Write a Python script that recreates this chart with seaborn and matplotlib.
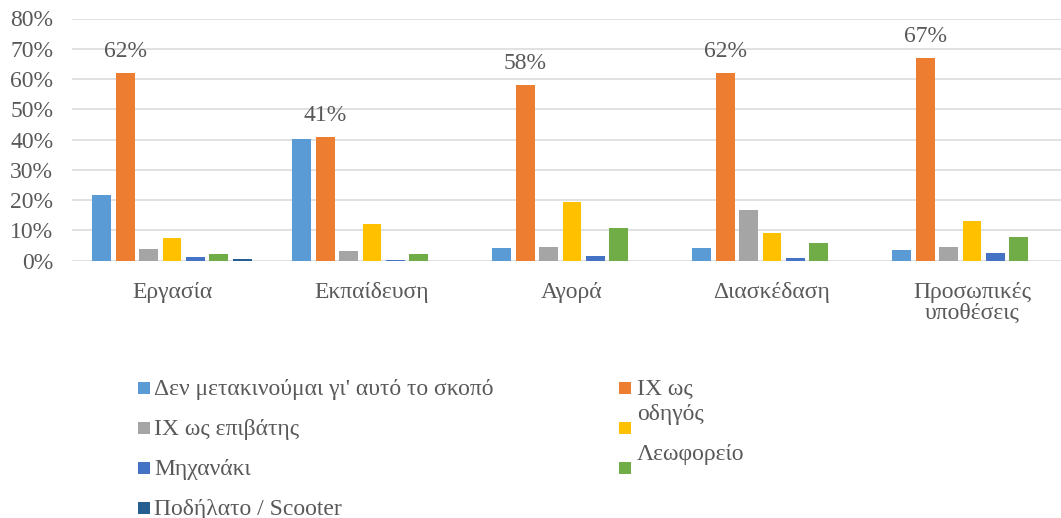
import matplotlib
matplotlib.use("Agg")
import matplotlib.pyplot as plt
from matplotlib.patches import Rectangle
from matplotlib.ticker import FuncFormatter
import pandas as pd
import seaborn as sns

# Trip purposes (x categories)
purposes = ["Εργασία", "Εκπαίδευση", "Αγορά", "Διασκέδαση", "Προσωπικές\nυποθέσεις"]

# Share of respondents (%) per travel mode, one list per series
not_travel = [21.7, 40.3, 4.3, 4.3, 3.6]
car_driver = [62, 41, 58, 62, 67]
car_passenger = [3.9, 3.3, 4.6, 16.8, 4.6]
yellow_series = [7.4, 12.2, 19.5, 9.3, 13.2]
motorbike = [1.3, 0.3, 1.5, 1.0, 2.7]
bus = [2.3, 2.3, 10.9, 6.0, 7.9]
bicycle = [0.4, 0.0, 0.0, 0.0, 0.0]

series = [not_travel, car_driver, car_passenger, yellow_series, motorbike, bus, bicycle]
legend_labels = ["Δεν μετακινούμαι γι' αυτό το σκοπό", "ΙΧ ως\nοδηγός", "ΙΧ ως επιβάτης",
                 "", "Μηχανάκι", "Λεωφορείο", "Ποδήλατο / Scooter"]
colors = ["#5B9BD5", "#ED7D31", "#A5A5A5", "#FFC000", "#4472C4", "#70AD47", "#255E91"]

yticks = [0, 10, 20, 30, 40, 50, 60, 70, 80]

rows = []
for s_idx, vals in enumerate(series):
    for p, v in zip(purposes, vals):
        rows.append({"purpose": p, "mode": s_idx, "share": v})
df = pd.DataFrame(rows)

sns.set_theme(style="white")
plt.rcParams["font.family"] = ["Liberation Serif", "DejaVu Serif"]
TEXT = "#595959"
GRID = "#D9D9D9"

W, H = 1061, 518
fig = plt.figure(figsize=(W / 100, H / 100), dpi=100)
ax = fig.add_axes([72 / W, (H - 260.7) / H, 1000 / W, (260.7 - 18.5) / H])

sns.barplot(data=df, x="purpose", y="share", hue="mode", order=purposes,
            hue_order=list(range(len(series))),
            palette={i: c for i, c in enumerate(colors)},
            width=0.82, gap=0.19, saturation=1, linewidth=0,
            legend=False, ax=ax, zorder=3)

ax.set_ylim(0, 80)
ax.set_yticks(yticks)
ax.yaxis.set_major_formatter(FuncFormatter(lambda v, _: f"{v:.0f}%"))
ax.grid(axis="y", color=GRID, linewidth=1.1, zorder=0)
ax.grid(axis="x", visible=False)
ax.set_axisbelow(True)
for sp in ax.spines.values():
    sp.set_visible(False)
ax.set_xlabel("")
ax.set_ylabel("")
ax.tick_params(axis="y", length=0, pad=13.5, labelsize=17, labelcolor=TEXT)
ax.tick_params(axis="x", length=0, pad=15, labelsize=17, labelcolor=TEXT)
for t in ax.get_xticklabels():
    t.set_linespacing(1.0)

# Value labels above the "car driver" bars
for bar, v in zip(ax.containers[1], car_driver):
    ax.annotate(f"{v:.0f}%", (bar.get_x() + bar.get_width() / 2, bar.get_height()),
                xytext=(0, 11.5), textcoords="offset points",
                ha="center", va="baseline", fontsize=17, color=TEXT)

# Legend laid out in two columns below the plot
def px(x, y):
    return x / W, (H - y) / H

sq = 12
col_x = [138, 619]
row_top = 382
row_step = 40
right_baselines = {1: 395, 3: None, 5: 460}
for i, (lab, col) in enumerate(zip(legend_labels, colors)):
    c, r = i % 2, i // 2
    top = row_top + row_step * r
    x0, y0 = px(col_x[c], top + sq)
    fig.add_artist(Rectangle((x0, y0), sq / W, sq / H, transform=fig.transFigure,
                             facecolor=col, edgecolor="none"))
    if not lab:
        continue
    if c == 0:
        tx, ty = px(col_x[c] + 16, top + 13)
        fig.text(tx, ty, lab, fontsize=17, color=TEXT, va="baseline", ha="left")
    else:
        lines = lab.split("\n")
        base = right_baselines[i]
        for k, line in enumerate(lines):
            tx, ty = px(col_x[c] + 18, base + 25 * k)
            fig.text(tx, ty, line, fontsize=17, color=TEXT, va="baseline", ha="left")

fig.savefig("out.png", dpi=100)
